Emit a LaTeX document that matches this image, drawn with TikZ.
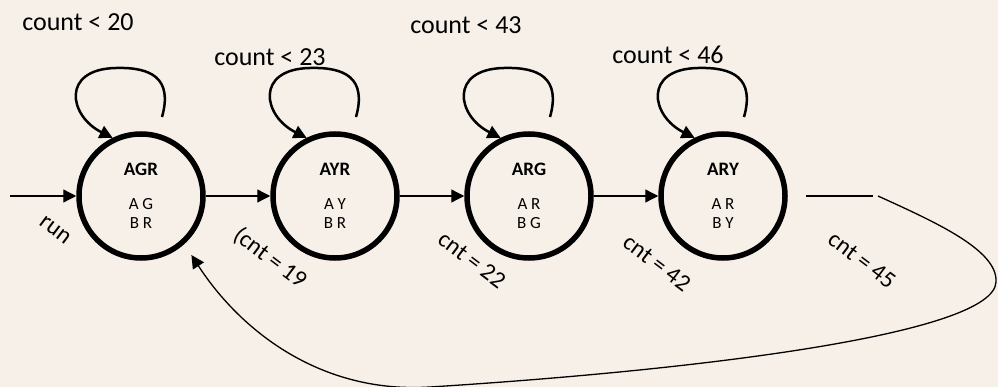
\documentclass[tikz,border=0pt]{standalone}
\usepackage{fontspec}
\setmainfont{Carlito}
\usetikzlibrary{automata, positioning, arrows.meta}
\definecolor{paper}{RGB}{246,240,233}
\tikzset{
	->, % every connector is directed
	>={Triangle[length=13pt, width=13pt]}, % big filled heads
	every state/.style={circle, draw, line width=5.5pt, minimum size=124pt, inner sep=0pt, align=center, font=\fontsize{17}{19}\selectfont},
	trans/.style={line width=1.3pt},
	selfloop/.style={line width=2.5pt},
	guard/.style={rotate=-37, font=\fontsize{24}{24}\selectfont},
	cond/.style={font=\fontsize{26}{26}\selectfont},
}

\begin{document}
\begin{tikzpicture}[x=1pt, y=-1pt, node distance=194pt, on grid]
	\useasboundingbox (0,0) rectangle (998,387);
	\fill[paper, -] (0,0) rectangle (998,387);

	% States
	\node[state] (AGR) at (141,196) {{\fontsize{19}{19}\selectfont\bfseries AGR}\\[15pt] A G\\B R};
	\node[state, right=of AGR] (AYR) {{\fontsize{19}{19}\selectfont\bfseries AYR}\\[15pt] A Y\\B R};
	\node[state, right=of AYR] (ARG) {{\fontsize{19}{19}\selectfont\bfseries ARG}\\[15pt] A R\\B G};
	\node[state, right=of ARG] (ARY) {{\fontsize{19}{19}\selectfont\bfseries ARY}\\[15pt] A R\\B Y};

	% Transitions
	\coordinate (entry) at (10,196);
	\coordinate (ret) at (806,196);
	\coordinate (retend) at (873,196);
	\path[trans]
		(entry) edge (AGR)
		(AGR) edge (AYR)
		(AYR) edge (ARG)
		(ARG) edge (ARY);
	\draw[trans, -] (ret) -- (retend);
	\draw[trans, shorten >=13pt] ([xshift=5pt]retend)
		.. controls (935,222) and (998,250) .. (996,282)
		.. controls (994,334) and (700,370) .. (430,387)
		.. controls (320,394) and (240,330) .. (AGR.-48);

	% Self loops
	\draw[selfloop] (AGR.center) ++(21,-79) .. controls +(11,-39) and +(35,-1) .. ++(-46,-49) .. controls +(-55,1) and +(-44,-22) .. (AGR.116);
	\draw[selfloop] (AYR.center) ++(21,-79) .. controls +(11,-39) and +(35,-1) .. ++(-46,-49) .. controls +(-55,1) and +(-44,-22) .. (AYR.116);
	\draw[selfloop] (ARG.center) ++(21,-79) .. controls +(11,-39) and +(35,-1) .. ++(-46,-49) .. controls +(-55,1) and +(-44,-22) .. (ARG.116);
	\draw[selfloop] (ARY.center) ++(21,-79) .. controls +(11,-39) and +(35,-1) .. ++(-46,-49) .. controls +(-55,1) and +(-44,-22) .. (ARY.116);

	% Labels
	\node[cond] (c20) at ([shift={(-63,-174)}]AGR.center) {count < 20};
	\node[cond] (c23) at ([shift={(-65,-139)}]AYR.center) {count < 23};
	\node[cond] (c43) at ([shift={(-63,-171)}]ARG.center) {count < 43};
	\node[cond] (c46) at ([shift={(-55,-141)}]ARY.center) {count < 46};
	\node[guard] (grun) at ([shift={(-86,34)}]AGR.center) {run};
	\node[guard] (g19) at ([shift={(-65,62)}]AYR.center) {(cnt = 19};
	\node[guard] (g22) at ([shift={(-57,64)}]ARG.center) {cnt = 22};
	\node[guard] (g42) at ([shift={(-66,67)}]ARY.center) {cnt = 42};
	\node[guard] (g45) at ([shift={(139,64)}]ARY.center) {cnt = 45};
\end{tikzpicture}
\end{document}
